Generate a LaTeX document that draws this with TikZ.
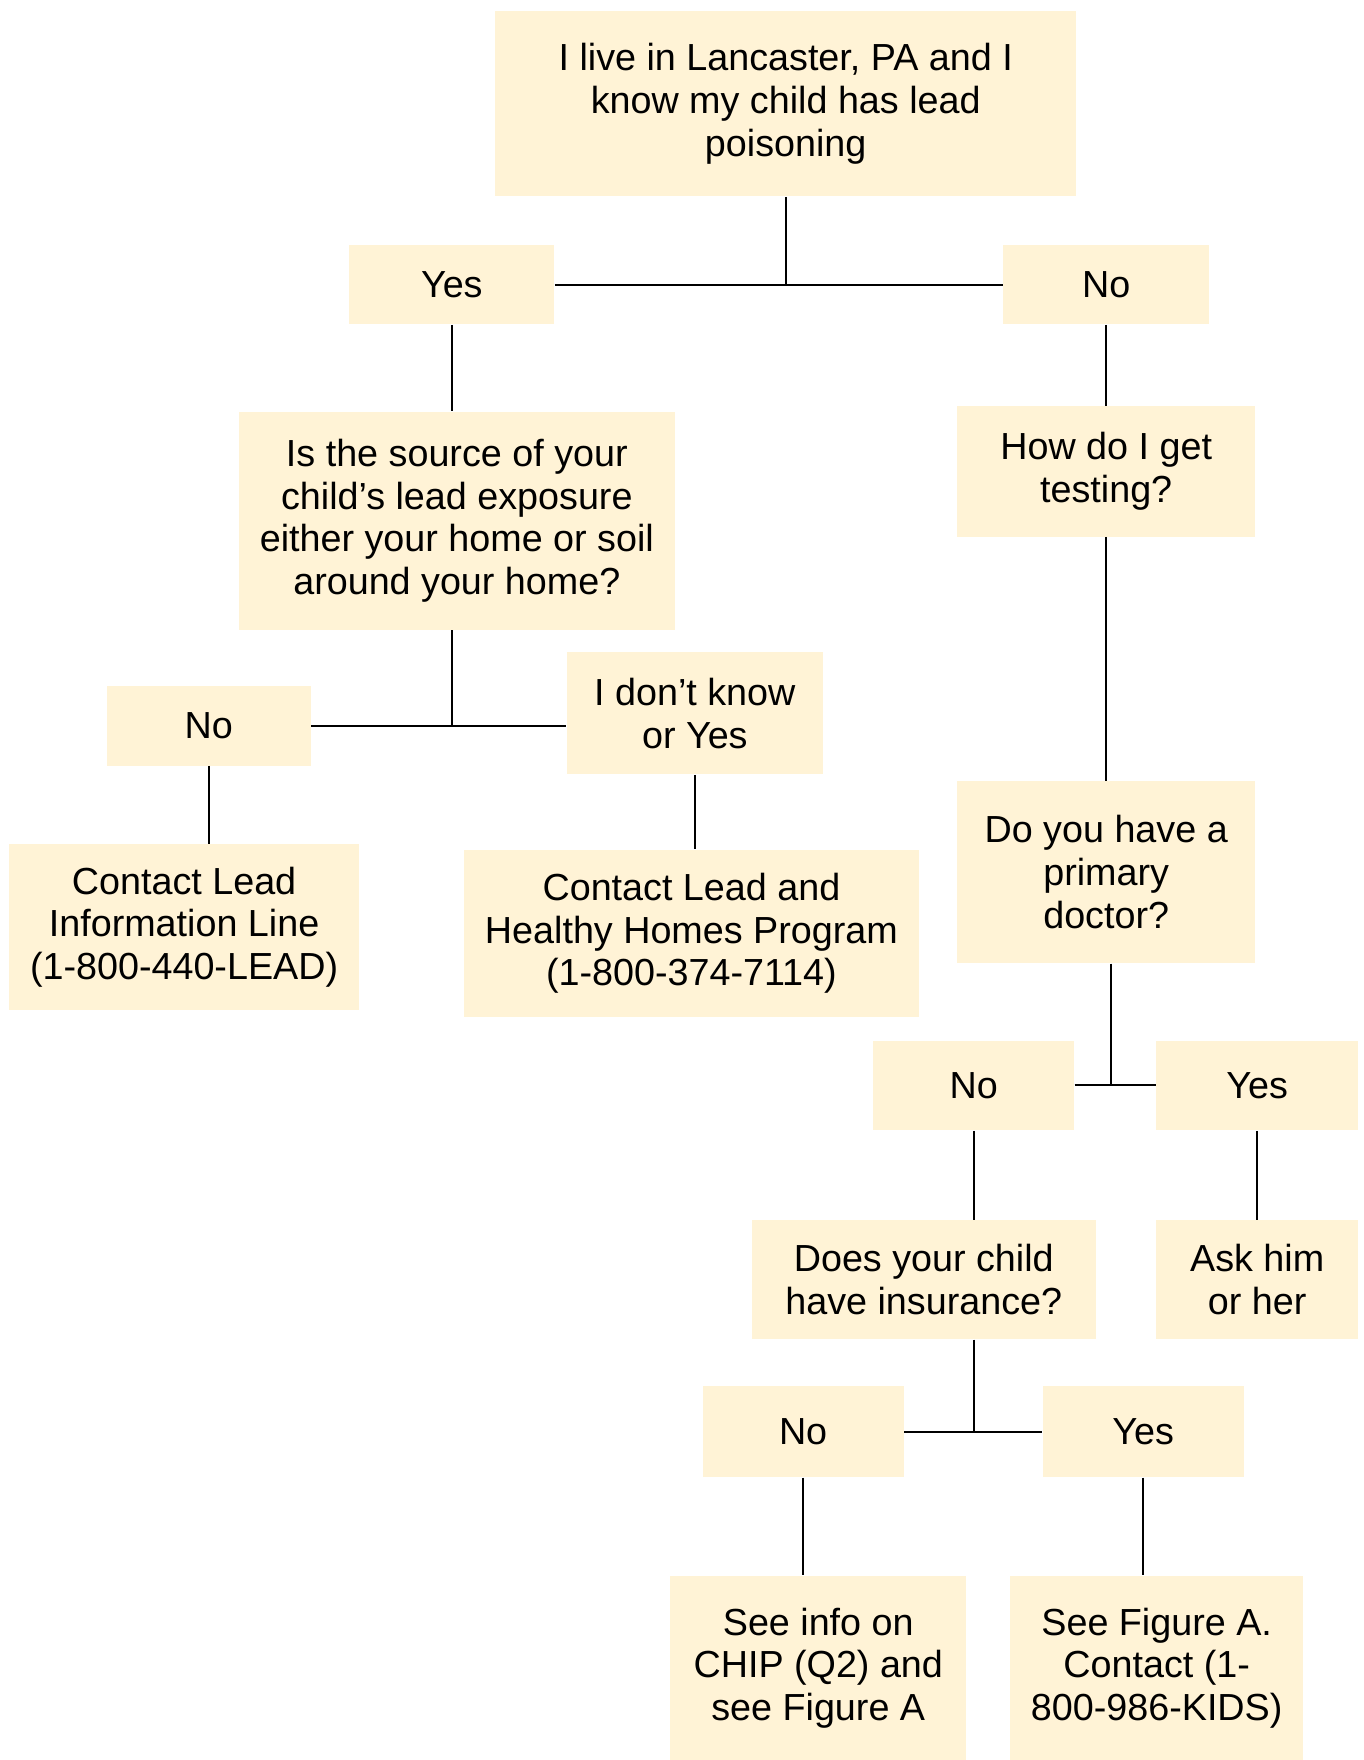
\documentclass[tikz,border=0pt]{standalone}
\usepackage{fontspec}
\setmainfont{Liberation Sans}
\usepackage{tikz}
\definecolor{boxfill}{RGB}{255,243,214}

\begin{document}
\begin{tikzpicture}[x=0.5pt, y=-0.5pt,
  box/.style={fill=boxfill, inner sep=0pt, align=center, font=\fontsize{16.8}{19}\selectfont},
  link/.style={line width=0.9pt}]
  \useasboundingbox (0,0) rectangle (1215,1568);
  % boxes
  \node[box, minimum width=259pt, minimum height=82.5pt] (start) at (700,92.5) {I live in Lancaster, PA and I\\know my child has lead\\poisoning};
  \node[box, minimum width=91.5pt, minimum height=35.5pt] (yesA) at (402.5,253.5) {Yes};
  \node[box, minimum width=91.5pt, minimum height=35.5pt] (noA) at (985.5,253.5) {No};
  \node[box, minimum width=194pt, minimum height=97pt] (source) at (407,464) {Is the source of your\\child’s lead exposure\\either your home or soil\\around your home?};
  \node[box, minimum width=132.5pt, minimum height=58pt] (testing) at (985.5,420) {How do I get\\testing?};
  \node[box, minimum width=91pt, minimum height=35.5pt] (noB) at (186,646.5) {No};
  \node[box, minimum width=114pt, minimum height=54.5pt] (dunno) at (619,635.5) {I don’t know\\or Yes};
  \node[box, minimum width=156pt, minimum height=74pt] (infoline) at (164,826) {Contact Lead\\Information Line\\(1-800-440-LEAD)};
  \node[box, minimum width=203pt, minimum height=74.5pt] (homes) at (616,831.5) {Contact Lead and\\Healthy Homes Program\\(1-800-374-7114)};
  \node[box, minimum width=132.5pt, minimum height=81pt] (doctor) at (985.5,777) {Do you have a\\primary\\doctor?};
  \node[box, minimum width=89.5pt, minimum height=40pt] (noC) at (867.5,967) {No};
  \node[box, minimum width=90pt, minimum height=40pt] (yesC) at (1120,967) {Yes};
  \node[box, minimum width=153pt, minimum height=53pt] (insur) at (823,1140) {Does your child\\have insurance?};
  \node[box, minimum width=90pt, minimum height=53pt] (askdoc) at (1120,1140) {Ask him\\or her};
  \node[box, minimum width=89.5pt, minimum height=40.5pt] (noD) at (715.5,1275.5) {No};
  \node[box, minimum width=89.5pt, minimum height=40.5pt] (yesD) at (1018.5,1275.5) {Yes};
  \node[box, minimum width=132pt, minimum height=82pt] (chip) at (729,1486) {See info on\\CHIP (Q2) and\\see Figure A};
  \node[box, minimum width=130.5pt, minimum height=82pt] (figA) at (1030.5,1486) {See Figure A.\\Contact (1-\\800-986-KIDS)};
  % connectors
  \draw[link] (start.south) -- (start.south |- yesA.east);
  \draw[link] (yesA.east) -- (noA.west);
  \draw[link] (yesA.south) -- (yesA.south |- source.north);
  \draw[link] (noA) -- (testing);
  \draw[link] (yesA |- source.south) -- (yesA |- noB.east);
  \draw[link] (noB.east) -- (noB.east -| dunno.west);
  \draw[link] (noB.south) -- (noB.south |- infoline.north);
  \draw[link] (dunno.south) -- (dunno.south |- homes.north);
  \draw[link] (testing) -- (doctor);
  \draw[link] ([xshift=2pt]doctor.south) -- ([xshift=2pt]doctor.south |- noC.east);
  \draw[link] (noC.east) -- (yesC.west);
  \draw[link] (noC.south) -- (noC.south |- insur.north);
  \draw[link] (yesC) -- (askdoc);
  \draw[link] (noC |- insur.south) -- (noC |- noD.east);
  \draw[link] (noD.east) -- (yesD.west);
  \draw[link] (noD.south) -- (noD.south |- chip.north);
  \draw[link] (yesD.south) -- (yesD.south |- figA.north);
\end{tikzpicture}
\end{document}
